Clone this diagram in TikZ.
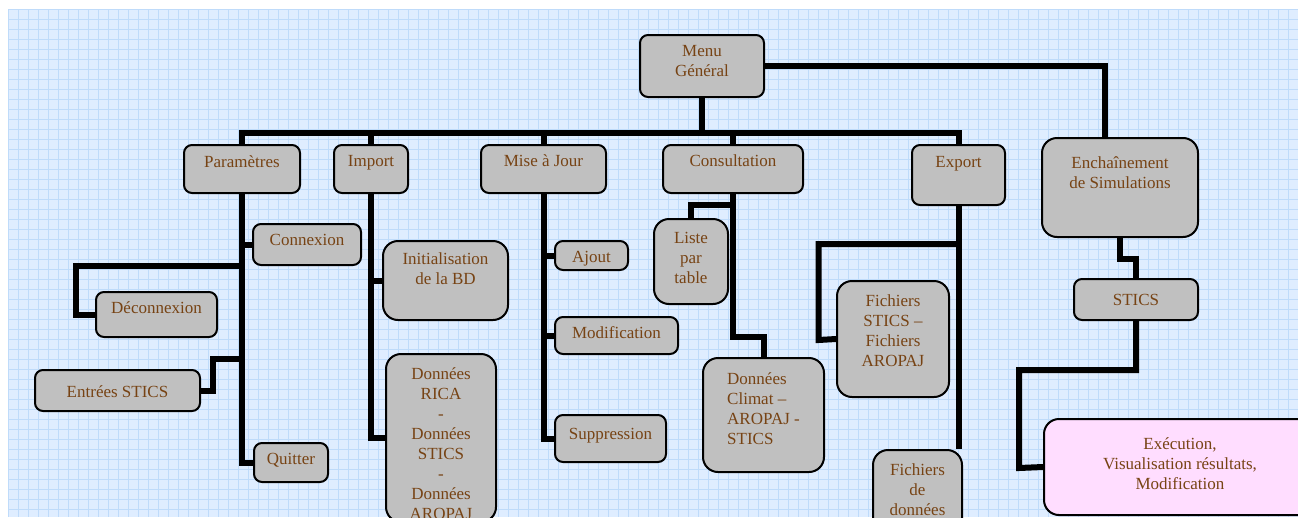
\documentclass[tikz,border=0pt]{standalone}
\usepackage{fontspec}
\setmainfont{Liberation Serif}
\usepackage{tikz}
\definecolor{boxgray}{HTML}{C0C0C0}
\definecolor{txtbrown}{HTML}{774314}
\definecolor{bgblue}{HTML}{DFEDFF}
\definecolor{gridblue}{HTML}{BFDBFA}
\definecolor{execpink}{HTML}{FFDDFF}
\newcommand{\boxtxt}[4][8pt]{\parbox[c][#3][t]{#2}{\centering\vspace*{#1}\strut #4}}
\tikzset{
  every picture/.style={line join=miter},
  box/.style={draw=black, line width=2pt, fill=boxgray, rounded corners=8pt, inner sep=0pt, text=txtbrown, font=\fontsize{17}{20}\selectfont},
  bigbox/.style={box, rounded corners=15pt},
  link/.style={line width=6pt, black},
}

\begin{document}
\begin{tikzpicture}[x=1pt,y=-1pt]
\useasboundingbox (0,0) rectangle (1298,517);
\clip (0,0) rectangle (1298,517);
\fill[bgblue] (8,9) rectangle (1298,517);
\foreach \x in {8,18,...,1298}{\draw[gridblue,line width=1pt](\x,9)--(\x,517);}
\foreach \y in {9,19,...,517}{\draw[gridblue,line width=1pt](8,\y)--(1298,\y);}
\node[box] (menu) at (702,66) {\boxtxt[7pt]{124pt}{62pt}{Menu\\Général}};
\node[box] (param) at (242,169) {\boxtxt{116pt}{48pt}{Paramètres}};
\node[box] (import) at (371,169) {\boxtxt[7pt]{74pt}{48pt}{Import}};
\node[box] (maj) at (543.5,169) {\boxtxt[7pt]{125pt}{48pt}{Mise à Jour}};
\node[box] (consult) at (733,169) {\boxtxt[7pt]{140pt}{48pt}{Consultation}};
\node[box] (export) at (958.5,175) {\boxtxt{93pt}{60pt}{Export}};
\node[bigbox] (ench) at (1120,187.5) {\boxtxt[16pt]{156pt}{99pt}{Enchaînement\\de Simulations}};
\node[box] (connex) at (307,244.5) {\boxtxt[7pt]{108pt}{41pt}{Connexion}};
\node[box] (deconn) at (156.5,314.5) {\boxtxt[7pt]{121pt}{45pt}{Déconnexion}};
\node[box] (entrees) at (117.5,390.5) {\boxtxt[13pt]{165pt}{41pt}{Entrées STICS}};
\node[box] (quitter) at (291,462.5) {\boxtxt[7pt]{74pt}{39pt}{Quitter}};
\node[bigbox] (init) at (445.5,280.5) {\boxtxt[9pt]{125pt}{79pt}{Initialisation\\de la BD}};
\node[bigbox] (rica) at (441,438) {\boxtxt[11pt]{110pt}{168pt}{Données\\RICA\\-\\Données\\STICS\\-\\Données\\AROPAJ}};
\node[box] (ajout) at (591.5,255.5) {\boxtxt[7pt]{73pt}{29pt}{Ajout}};
\node[box] (modif) at (616.5,335.5) {\boxtxt[7pt]{123pt}{37pt}{Modification}};
\node[box] (suppr) at (610.5,438.5) {\boxtxt[10pt]{111pt}{47pt}{Suppression}};
\node[bigbox] (liste) at (691,261.5) {\boxtxt[10pt]{74pt}{85pt}{Liste\\par\\table}};
\node[bigbox] (climat) at (763.5,415) {\boxtxt[12pt]{121pt}{114pt}{\begin{tabular}[t]{@{}l@{}}Données\\Climat –\\AROPAJ -\\STICS\end{tabular}}};
\node[bigbox] (fichSA) at (893,339) {\boxtxt[11pt]{112pt}{116pt}{Fichiers\\STICS –\\Fichiers\\AROPAJ}};
\node[bigbox] (fichdon) at (917.5,500) {\boxtxt[11pt]{89pt}{100pt}{Fichiers\\de\\données}};
\node[box] (stics) at (1136,299.5) {\boxtxt[12pt]{124pt}{41pt}{STICS}};
\node[bigbox, fill=execpink] (exec) at (1180,467) {\boxtxt[16pt]{272pt}{96pt}{Exécution,\\Visualisation résultats,\\Modification}};
\coordinate (bus) at (703,133);
\draw[link] (menu.south) -- (menu.south |- bus);
\draw[link] (param.north) |- (bus -| export.north) -- (export.north);
\foreach \n in {import,maj,consult}{\draw[link] (\n.north) -- (\n.north |- bus);}
\draw[link] (menu.east) -| ([xshift=-15pt]ench.north);
\draw[link] (param.south) |- (quitter.west);
\draw[link] (connex.west) -- (connex.west -| param.south);
\draw[link] (deconn.west) -- ++(-19,0) |- (param.south |- connex.south);
\draw[link] (entrees.east) -- ++(12,0) -- ++(0,-32) coordinate (e1) -- (e1 -| param.south);
\draw[link] (import.south) |- (rica.west);
\draw[link] (init.west) -- (init.west -| import.south);
\draw[link] (maj.south) |- (suppr.west);
\foreach \n in {ajout,modif}{\draw[link] (\n.west) -- (\n.west -| maj.south);}
\draw[link] (liste.north) -- ++(0,-13) -| (consult.south);
\draw[link] (consult.south) -- ++(0,143) -| (climat.north);
\draw[link] (export.south) -- (export.south |- fichdon.north);
\draw[link] (export.south) ++(0,38) -| ++(-140,96) -- (fichSA.west);
\draw[link] (ench.south) -- ++(0,21) -| (stics.north);
\draw[link] (stics.south) -- ++(0,49) -| ++(-117,98) -- (exec.west);
\end{tikzpicture}
\end{document}
